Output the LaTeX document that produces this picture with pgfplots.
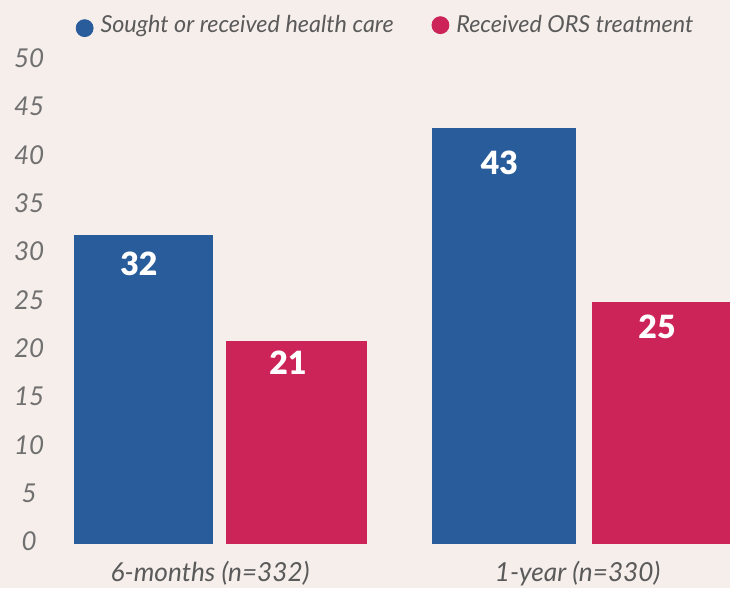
\documentclass[border=0pt]{standalone}
\usepackage{fontspec}
\setmainfont{Lato}
\newfontface\latoblack{Lato Black}
\usepackage{pgfplots}
\pgfplotsset{compat=1.18}
\definecolor{bgcol}{HTML}{F5EEEB}
\definecolor{seekblue}{HTML}{285C9B}
\definecolor{orsred}{HTML}{CC2458}
\definecolor{txtgray}{HTML}{5A5A5A}
\definecolor{tickgray}{HTML}{707070}

\begin{document}
\begin{tikzpicture}
\begin{axis}[
  scale only axis,
  width=365pt, height=294pt,
  xmin=0, xmax=730,
  ymin=-4.55, ymax=56.26,
  axis background/.style={fill=bgcol},
  axis line style={draw=none},
  major tick length=0pt,
  ytick={0,5,...,50},
  xtick={210,577.7},
  xticklabels={6-months (n=332), 1-year (n=330)},
  /pgf/number format/assume math mode=true,
  yticklabel style={font=\fontsize{13}{14}\selectfont\itshape, text=tickgray,
    anchor=center, xshift=14.5pt, yshift=1.2pt},
  xticklabel style={font=\fontsize{13.1}{14}\selectfont\itshape, text=txtgray,
    anchor=base, yshift=3.2pt},
  nodes near coords,
  every node near coord/.append style={font=\fontsize{16}{18}\selectfont\latoblack,
    text=white, anchor=north, inner sep=0pt},
  legend columns=2,
  legend style={at={(rel axis cs:0.103,0.9575)}, anchor=west, draw=none, fill=none,
    inner sep=0pt, font=\fontsize{11.7}{13}\selectfont\itshape, text=txtgray,
    /tikz/every odd column/.append style={column sep=1.5pt},
    /tikz/every even column/.append style={column sep=17pt}},
]
% 6-months
\addplot[ybar, bar shift=0pt, bar width=138.4, fill=seekblue, draw=none, forget plot,
  every node near coord/.append style={xshift=-2.4pt, yshift=-8.5pt}]
  coordinates {(143.5,32)};
\addplot[ybar, bar shift=0pt, bar width=141, fill=orsred, draw=none, forget plot,
  every node near coord/.append style={xshift=-4.4pt, yshift=-4.7pt}]
  coordinates {(296.8,21)};
% 1-year
\addplot[ybar, bar shift=0pt, bar width=144, fill=seekblue, draw=none, forget plot,
  every node near coord/.append style={xshift=-2.1pt, yshift=-11pt}]
  coordinates {(503.7,43)};
\addplot[ybar, bar shift=0pt, bar width=141, fill=orsred, draw=none, forget plot,
  every node near coord/.append style={xshift=-2.5pt, yshift=-6pt}]
  coordinates {(662.2,25)};

\addlegendimage{legend image code/.code={\fill[seekblue] (4.25pt,-1.5pt) circle (4.25pt);}}
\addlegendimage{legend image code/.code={\fill[orsred] (4.25pt,0pt) circle (4.25pt);}}
\legend{Sought or received health care, Received ORS treatment}
\end{axis}
\end{tikzpicture}
\end{document}
